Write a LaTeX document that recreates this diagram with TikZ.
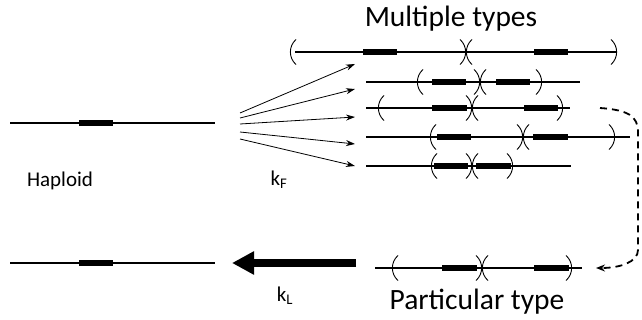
\documentclass[tikz,border=0pt]{standalone}
\usepackage{fontspec}
\setmainfont{Carlito}
\usetikzlibrary{arrows.meta}
\begin{document}
\begin{tikzpicture}[x=1pt,y=-1pt,
  chrom/.style={line width=1.4pt},
  gene/.style={fill=black},
  brk/.style={line width=0.9pt},
  lb/.pic={\draw[brk] (6,-12.5) .. controls (-1.5,-6) and (-1.5,6) .. (6,12.5);},
  rb/.pic={\draw[brk] (-6,-12.5) .. controls (1.5,-6) and (1.5,6) .. (-6,12.5);},
  db/.pic={\draw[brk] (-6,-12.5) .. controls (1.5,-6) and (1.5,6) .. (-6,12.5);
           \draw[brk] (6,-12.5) .. controls (-1.5,-6) and (-1.5,6) .. (6,12.5);},
  fan/.style={-{Stealth[length=9pt,width=6pt]}, line width=0.8pt},
  lbl/.style={inner sep=0pt, font=\fontsize{21}{24}\selectfont},
  title/.style={inner sep=0pt, font=\fontsize{29.5}{32}\selectfont}]
\useasboundingbox (0,0) rectangle (642,320);

% haploid chromosomes
\draw[chrom] (10,123) coordinate (h1a) -- (215,123) coordinate (h1b);
\fill[gene] (79,120) rectangle (113,126);
\draw[chrom] (10,263) coordinate (h2a) -- (215,263) coordinate (h2b);
\fill[gene] (79,260) rectangle (113,266);

% row 1
\draw[chrom] (295,52) coordinate (r1) -- (617,52);
\fill[gene] (363,49) rectangle (397,55);
\fill[gene] (534,49) rectangle (568,55);
\pic at (290,52) {lb}; \pic at (466,52) {db}; \pic at (617,52) {rb};
% row 2
\draw[chrom] (366,82) coordinate (r2) -- (580,82);
\fill[gene] (432,79) rectangle (466,85);
\fill[gene] (496,79) rectangle (530,85);
\pic at (417,82) {lb}; \pic at (480,82) {db}; \pic at (542,82) {rb};
% row 3
\draw[chrom] (366,108) coordinate (r3) -- (570,108);
\fill[gene] (432,105) rectangle (467,111);
\fill[gene] (524,105) rectangle (558,111);
\pic at (378,108) {lb}; \pic at (472,108) {db}; \pic at (563,108) {rb};
% row 4
\draw[chrom] (366,137) coordinate (r4) -- (630,137);
\fill[gene] (437,134) rectangle (471,140);
\fill[gene] (533,134) rectangle (568,140);
\pic at (430,137) {lb}; \pic at (523,137) {db}; \pic at (615,137) {rb};
% row 5
\draw[chrom] (366,166) coordinate (r5) -- (571,166);
\fill[gene] (434,163) rectangle (468,169);
\fill[gene] (476,163) rectangle (511,169);
\pic at (431,166) {lb}; \pic at (472,166) {db}; \pic at (513,166) {rb};
% particular type
\draw[chrom] (375,268) coordinate (p1) -- (582,268) coordinate (p2);
\fill[gene] (442,265) rectangle (477,271);
\fill[gene] (534,265) rectangle (569,271);
\pic at (392,268) {lb}; \pic at (482,268) {db}; \pic at (572,268) {rb};

% fan arrows
\coordinate (f1) at (240,113); \coordinate (f2) at (240,118);
\coordinate (f3) at (240,124); \coordinate (f4) at (240,132);
\coordinate (f5) at (240,139);
\coordinate (t1) at (355,64); \coordinate (t2) at (355,89);
\coordinate (t3) at (355,117); \coordinate (t4) at (355,144);
\coordinate (t5) at (355,166);
\draw[fan] (f1) -- (t1);
\draw[fan] (f2) -- (t2);
\draw[fan] (f3) -- (t3);
\draw[fan] (f4) -- (t4);
\draw[fan] (f5) -- (t5);

% thick arrow
\coordinate (ka) at (356,263); \coordinate (kb) at (232,263);
\draw[line width=7pt, -{Triangle[length=22pt,width=22pt]}] (ka) -- (kb);

% dashed return
\coordinate (d0) at (600,108); \coordinate (d1) at (596,268);
\draw[line width=1.8pt, dash pattern=on 7pt off 5pt, -{Stealth[length=9pt,width=7pt]}]
  (d0) .. controls (628,110) and (638,116) .. (638,132) -- (638,250)
  .. controls (638,262) and (620,268) .. (d1);

% labels
\node[title] (mt) at (451,19) {Multiple types};
\node[title] (pt) at (477,302) {Particular type};
\node[lbl] (hap) at (60,181) {Haploid};
\node[lbl] (kf) at (279,180) {k\textsubscript{F}};
\node[lbl] (kl) at (285,296) {k\textsubscript{L}};
\end{tikzpicture}
\end{document}
